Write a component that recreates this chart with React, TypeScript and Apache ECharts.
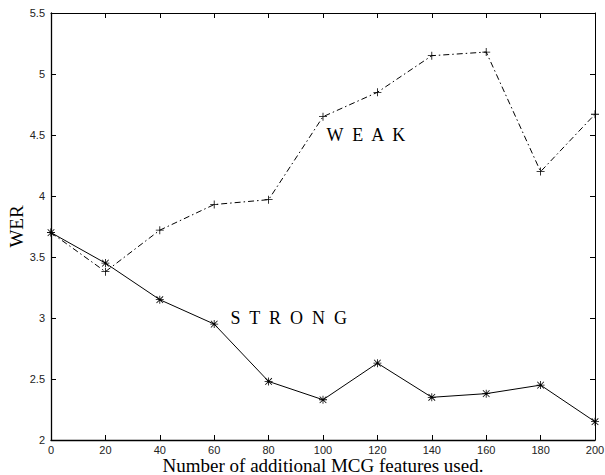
import React, { useEffect, useRef } from "react";
import * as echarts from "echarts";

const xValues = [0, 20, 40, 60, 80, 100, 120, 140, 160, 180, 200];
const weakValues = [3.7, 3.38, 3.72, 3.93, 3.97, 4.65, 4.85, 5.15, 5.18, 4.2, 4.67];
const strongValues = [3.7, 3.45, 3.15, 2.95, 2.48, 2.33, 2.63, 2.35, 2.38, 2.45, 2.15];
const weakLabelAt = [101.3, 4.5];
const strongLabelAt = [66, 3.0];
const weakText = "W  E  A  K";
const strongText = "S  T  R  O  N  G";

const plusPath = "path://M0,4.5 H10 V5.5 H0 Z M4.5,0 H5.5 V10 H4.5 Z";
const starPath =
  "path://M0,4.5 H10 V5.5 H0 Z M4.5,0 H5.5 V10 H4.5 Z M1.2,0.5 L9.5,8.8 L8.8,9.5 L0.5,1.2 Z M8.8,0.5 L9.5,1.2 L1.2,9.5 L0.5,8.8 Z";

const serif = "Liberation Serif, Times New Roman, serif";

export default function App() {
  const ref = useRef<HTMLDivElement>(null);
  useEffect(() => {
    if (!ref.current) return;
    const chart = echarts.init(ref.current, null, { renderer: "svg" });
    const tickStyle = { show: true, inside: true, length: 5, lineStyle: { color: "#000", width: 1 } };
    const axisLine = { show: true, onZero: false, lineStyle: { color: "#000", width: 1.3 } };
    const label = { color: "#222", fontFamily: "Liberation Sans, Arial, sans-serif", fontSize: 11 };
    const textLabel = {
      show: true, position: "inside", align: "left", verticalAlign: "middle",
      color: "#000", fontFamily: serif, fontSize: 18,
    };
    chart.setOption({
      animation: false,
      backgroundColor: "#fff",
      grid: { left: 51, top: 13, right: 10, bottom: 35, containLabel: false, outerBoundsMode: "none" },
      xAxis: [
        {
          type: "value", min: 0, max: 200, interval: 20,
          axisLine, axisTick: tickStyle, splitLine: { show: false },
          axisLabel: { ...label, margin: 4 },
          name: "Number of additional MCG features used.",
          nameLocation: "middle", nameGap: 16, nameMoveOverlap: false,
          nameTextStyle: { fontFamily: serif, fontSize: 19, color: "#000", verticalAlign: "top", lineHeight: 19 },
        },
        {
          type: "value", position: "top", min: 0, max: 200, interval: 20,
          axisLine: { ...axisLine, lineStyle: { color: "#000", width: 1 } }, axisTick: tickStyle,
          axisLabel: { show: false }, splitLine: { show: false },
        },
      ],
      yAxis: [
        {
          type: "value", min: 2, max: 5.5, interval: 0.5,
          axisLine, axisTick: tickStyle, splitLine: { show: false },
          axisLabel: { ...label, margin: 6 },
          name: "WER", nameLocation: "middle", nameGap: 25, nameRotate: 90, nameMoveOverlap: false,
          nameTextStyle: { fontFamily: serif, fontSize: 19, color: "#000" },
        },
        {
          type: "value", position: "right", min: 2, max: 5.5, interval: 0.5,
          axisLine: { ...axisLine, lineStyle: { color: "#000", width: 1 } }, axisTick: tickStyle,
          axisLabel: { show: false }, splitLine: { show: false },
        },
      ],
      series: [
        {
          name: "WEAK", type: "line",
          data: xValues.map((x, i) => [x, weakValues[i]]),
          symbol: plusPath, symbolSize: 8, showAllSymbol: true,
          lineStyle: { color: "#000", width: 1, type: [6, 3, 1.5, 3] },
          itemStyle: { color: "#000" },
          markPoint: {
            symbol: "circle", symbolSize: 0,
            data: [{ coord: weakLabelAt }],
            label: { ...textLabel, formatter: weakText },
          },
        },
        {
          name: "STRONG", type: "line",
          data: xValues.map((x, i) => [x, strongValues[i]]),
          symbol: starPath, symbolSize: 8, showAllSymbol: true,
          lineStyle: { color: "#000", width: 1 },
          itemStyle: { color: "#000" },
          markPoint: {
            symbol: "circle", symbolSize: 0,
            data: [{ coord: strongLabelAt }],
            label: { ...textLabel, formatter: strongText },
          },
        },
      ],
    });
    return () => chart.dispose();
  }, []);
  return <div ref={ref} style={{ width: 605, height: 475, position: "absolute", left: 0, top: 0 }} />;
}
